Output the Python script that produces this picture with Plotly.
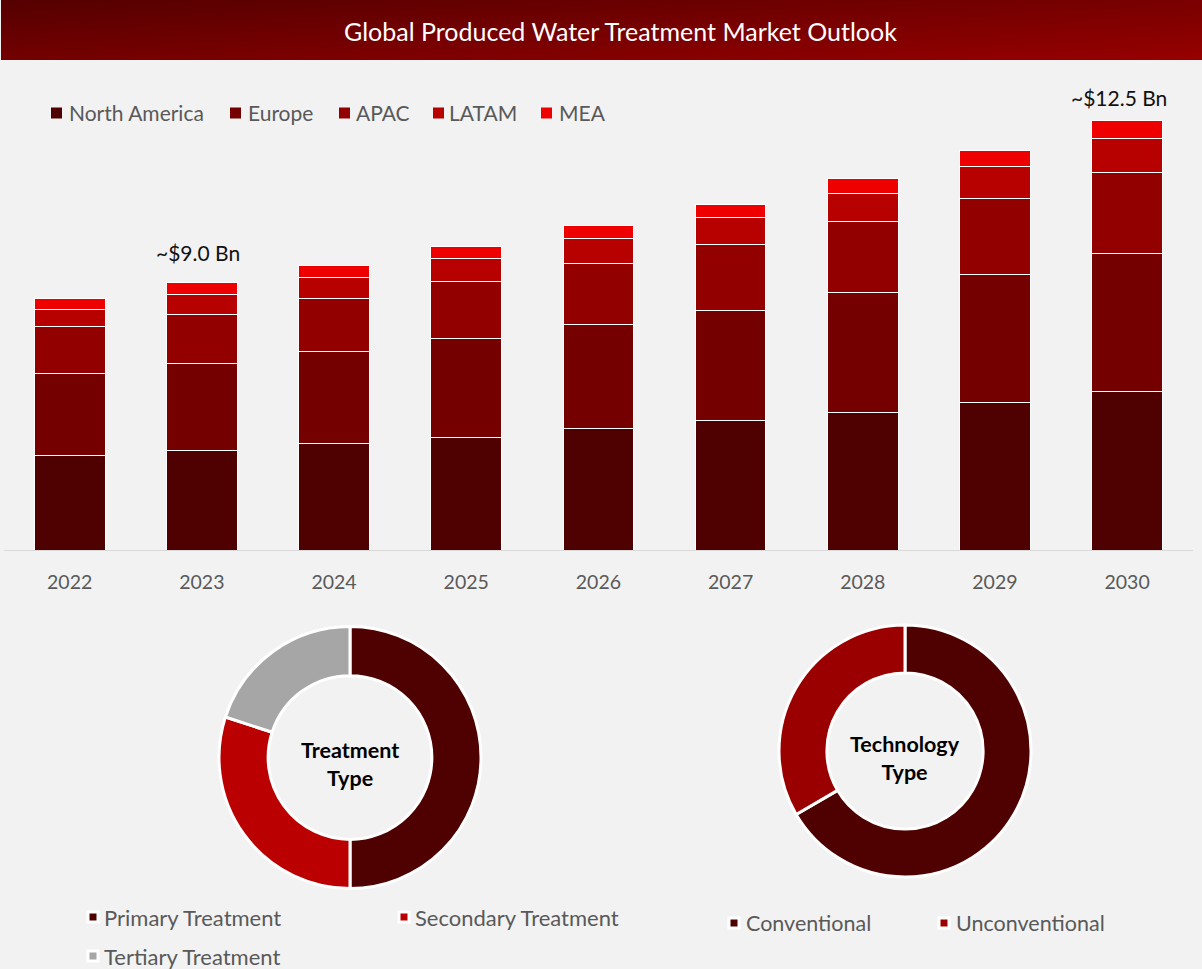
import base64
import plotly.graph_objects as go

W, H = 1202, 969
FONT = "Lato"

years = ["2022", "2023", "2024", "2025", "2026", "2027", "2028", "2029", "2030"]
north_america = [2.74, 2.91, 3.09, 3.29, 3.53, 3.76, 4.02, 4.31, 4.63]
europe = [2.39, 2.53, 2.68, 2.86, 3.03, 3.23, 3.47, 3.73, 4.02]
apac = [1.37, 1.43, 1.57, 1.66, 1.78, 1.92, 2.07, 2.19, 2.36]
latam = [0.52, 0.58, 0.61, 0.67, 0.73, 0.79, 0.84, 0.93, 0.99]
mea = [0.31, 0.34, 0.34, 0.35, 0.38, 0.38, 0.41, 0.47, 0.50]

region_names = ["North America", "Europe", "APAC", "LATAM", "MEA"]
region_colors = ["#4F0000", "#750000", "#920000", "#B70000", "#EE0000"]

treatment_labels = ["Primary Treatment", "Secondary Treatment", "Tertiary Treatment"]
treatment_values = [50, 30, 20]
treatment_colors = ["#4F0000", "#BA0000", "#A6A6A6"]

technology_labels = ["Conventional", "Unconventional"]
technology_values = [66.6, 33.4]
technology_colors = ["#4F0000", "#9A0000"]


def px(x):
    return x / W


def py(y):
    return 1 - y / H


fig = go.Figure()
series = [north_america, europe, apac, latam, mea]
for name, vals, col in zip(region_names, series, region_colors):
    fig.add_bar(
        x=years, y=vals, name=name, width=0.535, showlegend=False,
        marker=dict(color=col, line=dict(color="#FFFFFF", width=1)),
    )


def donut(labels, values, colors, cx, cy, r, hole):
    fig.add_pie(
        labels=labels, values=values, hole=hole, sort=False, direction="clockwise",
        rotation=0, textinfo="none", showlegend=False,
        marker=dict(colors=colors, line=dict(color="#FFFFFF", width=3)),
        domain=dict(x=[px(cx - r), px(cx + r)], y=[py(cy + r), py(cy - r)]),
    )


donut(treatment_labels, treatment_values, treatment_colors, 350, 757.5, 131, 0.625)
donut(technology_labels, technology_values, technology_colors, 905, 751, 126, 0.62)

svg = (
    '<svg xmlns="http://www.w3.org/2000/svg" width="1201" height="60" preserveAspectRatio="none">'
    '<defs><linearGradient id="g" gradientUnits="userSpaceOnUse" x1="0" y1="0" x2="7.9" y2="131.7">'
    '<stop offset="0" stop-color="#550000"/><stop offset="1" stop-color="#970000"/>'
    '</linearGradient></defs><rect width="1201" height="60" fill="url(#g)"/></svg>'
)
src = "data:image/svg+xml;base64," + base64.b64encode(svg.encode()).decode()

shapes = []
annotations = [
    dict(text="Global Produced Water Treatment Market Outlook", x=px(620), y=py(31),
         xref="paper", yref="paper", showarrow=False, xanchor="center", yanchor="middle",
         font=dict(size=25, color="#FFFFFF", family=FONT)),
    dict(text="~$9.0 Bn", x=years.index("2023"), y=sum(s[1] for s in series), xref="x", yref="y",
         showarrow=False, xanchor="center", yanchor="bottom", yshift=16, xshift=-4,
         font=dict(size=21, color="#111111", family=FONT)),
    dict(text="~$12.5 Bn", x=years.index("2030"), y=sum(s[8] for s in series), xref="x", yref="y",
         showarrow=False, xanchor="center", yanchor="bottom", yshift=9, xshift=-8,
         font=dict(size=21, color="#111111", family=FONT)),
    dict(text="<b>Treatment</b><br><b>Type</b>", x=px(350), y=py(764), xref="paper", yref="paper",
         showarrow=False, xanchor="center", yanchor="middle",
         font=dict(size=21.5, color="#000000", family=FONT)),
    dict(text="<b>Technology</b><br><b>Type</b>", x=px(905), y=py(757.5), xref="paper", yref="paper",
         showarrow=False, xanchor="center", yanchor="middle",
         font=dict(size=21.5, color="#000000", family=FONT)),
]


def legend_entry(label, color, sx, tx, y, size, halo=False):
    s = 10 if halo else 11
    shapes.append(dict(
        type="rect", xref="paper", yref="paper",
        x0=px(sx), x1=px(sx + s), y0=py(y + s / 2), y1=py(y - s / 2),
        fillcolor=color, line=dict(color="#FFFFFF" if halo else color, width=3 if halo else 0),
    ))
    annotations.append(dict(
        text=label, x=px(tx - 3), y=py(y), xref="paper", yref="paper", showarrow=False,
        xanchor="left", yanchor="middle", font=dict(size=size, color="#595959", family=FONT),
    ))


for label, col, sx, tx in zip(region_names, region_colors,
                              [51, 230, 339, 433, 541], [70, 249, 357, 450, 560]):
    legend_entry(label, col, sx, tx, 113, 21)
for label, col, sx, tx, y in zip(treatment_labels, treatment_colors,
                                 [88, 399, 88], [105, 416, 105], [917, 917, 956]):
    legend_entry(label, col, sx, tx, y, 22, halo=True)
for label, col, sx, tx in zip(technology_labels, technology_colors,
                              [729, 939], [747, 957]):
    legend_entry(label, col, sx, tx, 923, 21.5, halo=True)

fig.update_layout(
    width=W, height=H, barmode="stack",
    margin=dict(l=0, r=0, t=0, b=0), autosize=False,
    paper_bgcolor="#F2F2F2", plot_bgcolor="rgba(0,0,0,0)",
    font=dict(family=FONT, color="#595959"),
    shapes=shapes, annotations=annotations,
    images=[dict(source=src, xref="paper", yref="paper", x=px(1), y=1, sizex=px(1201), sizey=60 / H,
                 xanchor="left", yanchor="top", sizing="stretch", layer="below")],
    xaxis=dict(domain=[px(3.6), px(1193.2)], type="category", range=[-0.5, 8.5], showgrid=False,
               showline=True, linecolor="#D9D9D9", linewidth=1,
               ticks="outside", ticklen=15, tickcolor="rgba(0,0,0,0)",
               tickfont=dict(size=19.5, color="#595959", family=FONT)),
    yaxis=dict(domain=[py(550), py(69.5)], range=[0, 14], visible=False, showgrid=False, zeroline=False),
)

fig.write_html("out.html", config=dict(displayModeBar=False),
               post_script="document.body.style.margin='0';document.documentElement.style.overflow='hidden';")
